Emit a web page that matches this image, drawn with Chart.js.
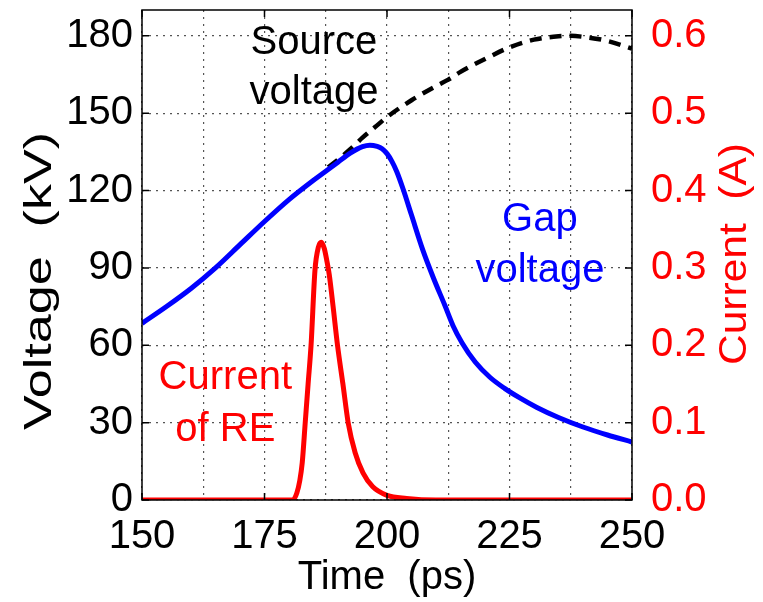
<!DOCTYPE html>
<html>
<head>
<meta charset="utf-8">
<script src="https://cdn.jsdelivr.net/npm/chart.js@4.4.0/dist/chart.umd.min.js"></script>
<style>
  html, body { margin: 0; padding: 0; background: #fff; }
  #wrap { width: 763px; height: 602px; }
</style>
</head>
<body>
<div id="wrap"><canvas id="myChart" width="763" height="602"></canvas></div>
<script>
// gap voltage (kV) vs time (ps)
const gapTime = [150, 155, 160, 165, 170, 175, 180, 185, 187.5, 190, 192.5, 195, 196.5, 198, 199, 200, 201, 202, 203.3, 205, 207.3, 209.5, 211.8, 213.5, 215.3, 218, 221, 224, 227.1, 230.6, 235, 240, 245, 250];
const gapKV   = [68.5, 75, 82, 90, 99, 108, 116.5, 124, 127.5, 131, 134.5, 137, 137.6, 137.1, 136.2, 134.3, 131.3, 127.3, 120.5, 110.5, 97, 86, 75.5, 67.5, 61, 53.5, 47.6, 43.3, 39.6, 35.9, 32, 28.3, 25.2, 22.5];

// source voltage (kV), only shown where it departs from the gap voltage
const srcTime = [188, 190, 192.5, 195, 197.5, 200, 205, 210, 212.5, 215, 220, 225, 230, 235, 237.5, 240, 245, 250];
const srcKV   = [129, 132, 136, 140.5, 144.5, 148.5, 155, 160.5, 163, 166, 171, 175.5, 178.5, 179.8, 180, 179.6, 178, 175];

// runaway electron current (A)
const curTime = [150, 175, 180.8, 181.6, 182.2, 182.7, 183.3, 183.9, 184.5, 185.3, 186, 186.6, 187.2, 187.7, 188.2, 189, 189.9, 191, 192.1, 193.5, 195.1, 197.1, 200, 204, 210, 250];
const curA    = [0, 0, 0, 0.009, 0.025, 0.048, 0.099, 0.15, 0.2, 0.297, 0.327, 0.333, 0.325, 0.31, 0.292, 0.25, 0.2, 0.15, 0.099, 0.061, 0.035, 0.017, 0.006, 0.002, 0, 0];

const xTicks = [150, 175, 200, 225, 250];
const kvTicks = [0, 30, 60, 90, 120, 150, 180];
const aTicks = [0, 0.1, 0.2, 0.3, 0.4, 0.5, 0.6];

const FONT = "'Liberation Sans', Arial, sans-serif";
const FS = 40;

function pts(xs, ys) {
  return xs.map((x, i) => ({ x: x, y: ys[i] }));
}

// stretched vertical title, like the squashed figure in the paper
function vTitle(ctx, txt, cx, cy, len, col) {
  ctx.save();
  ctx.translate(cx, cy);
  ctx.rotate(-Math.PI / 2);
  ctx.font = FS - 2 + "px " + FONT;
  const w = ctx.measureText(txt).width;
  ctx.scale(len / w, 1);
  ctx.fillStyle = col;
  ctx.textAlign = "center";
  ctx.textBaseline = "middle";
  ctx.fillText(txt, 0, 0);
  ctx.restore();
}

// frame, inward ticks, y titles and the in-plot text labels
const decor = {
  id: "decor",
  afterDatasetsDraw(chart) {
    const { ctx, chartArea: a, scales } = chart;
    const x = scales.x, yl = scales.y, yr = scales.y2;
    ctx.save();
    ctx.strokeStyle = "#000";
    ctx.lineWidth = 1.5;
    ctx.strokeRect(a.left, a.top, a.right - a.left, a.bottom - a.top);
    const t = 7;
    ctx.beginPath();
    xTicks.forEach(v => {
      const px = x.getPixelForValue(v);
      ctx.moveTo(px, a.bottom); ctx.lineTo(px, a.bottom - t);
      ctx.moveTo(px, a.top); ctx.lineTo(px, a.top + t);
    });
    kvTicks.forEach(v => {
      const py = yl.getPixelForValue(v);
      ctx.moveTo(a.left, py); ctx.lineTo(a.left + t, py);
    });
    aTicks.forEach(v => {
      const py = yr.getPixelForValue(v);
      ctx.moveTo(a.right, py); ctx.lineTo(a.right - t, py);
    });
    ctx.stroke();

    ctx.font = FS + "px " + FONT;
    ctx.textAlign = "center";
    ctx.textBaseline = "middle";
    const label = (txt, px, kv, col) => {
      ctx.fillStyle = col;
      ctx.fillText(txt, x.getPixelForValue(px), yl.getPixelForValue(kv));
    };
    label("Source", 185.1, 177.3, "#000");
    label("voltage", 185.1, 158, "#000");
    label("Gap", 231.2, 108.4, "#0000ff");
    label("voltage", 231.2, 89, "#0000ff");
    label("Current", 167, 47.5, "#ff0000");
    label("of RE", 167, 27, "#ff0000");
    ctx.restore();

    vTitle(ctx, "Voltage  (kV)", 41, 281, 298, "#000");
    vTitle(ctx, "Current  (A)", 736, 254, 222, "#ff0000");
  }
};

const data = {
  datasets: [
    {
      label: "Current of RE",
      data: pts(curTime, curA),
      yAxisID: "y2",
      borderColor: "#ff0000",
      borderWidth: 5,
      pointRadius: 0,
      cubicInterpolationMode: "monotone",
    },
    {
      label: "Gap voltage",
      data: pts(gapTime, gapKV),
      yAxisID: "y",
      borderColor: "#0000ff",
      borderWidth: 5,
      pointRadius: 0,
      cubicInterpolationMode: "monotone",
    },
    {
      label: "Source voltage",
      data: pts(srcTime, srcKV),
      yAxisID: "y",
      borderColor: "#000",
      borderWidth: 4.5,
      borderDash: [12, 8],
      pointRadius: 0,
      cubicInterpolationMode: "monotone",
    },
  ],
};

const gridOpts = { color: "#555", lineWidth: 1.2, drawTicks: false };
const borderOpts = { display: false, dash: [2, 5] };

const config = {
  type: "line",
  data: data,
  options: {
    responsive: false,
    animation: false,
    layout: { padding: { top: 10, left: 0, right: 0, bottom: 0 } },
    plugins: { legend: { display: false }, tooltip: { enabled: false } },
    scales: {
      x: {
        type: "linear",
        min: 150, max: 250,
        grid: gridOpts,
        border: borderOpts,
        ticks: {
          stepSize: 12.5,
          autoSkip: false,
          maxRotation: 0,
          padding: 13,
          color: "#000",
          font: { family: FONT, size: FS },
          callback: v => (v % 25 === 0 ? v : ""),
        },
        title: {
          display: true,
          text: "Time  (ps)",
          color: "#000",
          font: { family: FONT, size: FS },
          padding: { top: 0, bottom: 0 },
        },
        afterFit: s => { s.height = 102; },
      },
      y: {
        position: "left",
        min: 0, max: 190,
        grid: gridOpts,
        border: borderOpts,
        afterBuildTicks: s => { s.ticks = kvTicks.map(v => ({ value: v })); },
        ticks: {
          padding: 9,
          color: "#000",
          font: { family: FONT, size: FS },
        },
        afterFit: s => { s.width = 142; s.paddingTop = 0; s.paddingBottom = 0; },
      },
      y2: {
        position: "right",
        min: 0, max: 190 / 300,
        grid: { display: false },
        border: borderOpts,
        afterBuildTicks: s => { s.ticks = aTicks.map(v => ({ value: v })); },
        ticks: {
          padding: 11,
          color: "#ff0000",
          font: { family: FONT, size: FS },
          callback: v => v.toFixed(1),
        },
        afterFit: s => { s.width = 131; s.paddingTop = 0; s.paddingBottom = 0; },
      },
    },
  },
  plugins: [decor],
};

const myChart = new Chart(document.getElementById("myChart"), config);
</script>
</body>
</html>
